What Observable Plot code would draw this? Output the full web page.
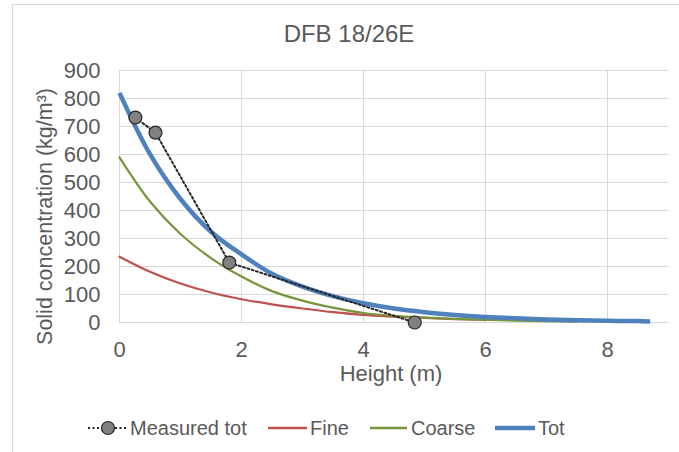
<!DOCTYPE html>
<html>
<head>
<meta charset="utf-8">
<script src="https://cdn.jsdelivr.net/npm/d3@7"></script>
<script src="https://cdn.jsdelivr.net/npm/@observablehq/plot@0.6"></script>
<style>
  html, body { margin: 0; padding: 0; background: #fff; }
  #wrap { position: relative; width: 679px; height: 452px; overflow: hidden; font-family: "Liberation Sans", Arial, sans-serif; color: #595959; }
  #border { position: absolute; left: 12px; top: 4px; right: -2px; bottom: -2px; border-left: 1px solid #d9d9d9; border-top: 1px solid #d9d9d9; }
  #title { position: absolute; left: 12px; width: 674px; top: 20px; text-align: center; font-size: 24px; line-height: 28px; color: #595959; }
  #plot { position: absolute; left: 0; top: 0; }
  #legend { position: absolute; left: 0; top: 402px; }
</style>
</head>
<body>
<div id="wrap">
  <div id="border"></div>
  <div id="plot"></div>
  <div id="title"></div>
  <div id="legend"></div>
</div>
<script>
const titleText = "DFB 18/26E";
const xLabel = "Height (m)";
const yLabel = "Solid concentration (kg/m³)";
const seriesNames = ["Measured tot", "Fine", "Coarse", "Tot"];
const seriesColors = ["#262626", "#C0504D", "#77963C", "#4F81BD"];

const xTicks = [0, 2, 4, 6, 8];
const yTicks = [0, 100, 200, 300, 400, 500, 600, 700, 800, 900];

const measuredHeight = [0.26, 0.59, 1.8, 4.84];
const measuredConc = [732, 678, 214, 0];

const fineHeight = [0, 0.5, 1, 1.5, 2, 2.5, 3, 3.5, 4, 4.5, 5, 5.5, 6];
const fineConc = [235, 181, 139, 107, 83, 65, 50, 37, 27, 21, 16, 12, 9];

const coarseHeight = [0, 0.5, 1, 1.5, 2, 2.5, 3, 3.5, 4, 4.5, 5, 5.5, 6, 6.5, 7, 7.5];
const coarseConc = [590, 432, 316, 230, 164, 112, 78, 53, 34, 24, 18, 13, 10, 7, 5, 3];

const totHeight = [0, 0.5, 1, 1.5, 2, 2.5, 3, 3.5, 4, 4.5, 5, 5.5, 6, 6.5, 7, 7.5, 8, 8.5, 8.7];
const totConc = [820, 601, 441, 324, 243, 174, 128, 94, 69, 50, 37, 27, 20, 15, 11, 8, 6, 5, 4];

const toRows = (xs, ys) => xs.map((x, i) => ({x, y: ys[i]}));
const measured = toRows(measuredHeight, measuredConc);
const fine = toRows(fineHeight, fineConc);
const coarse = toRows(coarseHeight, coarseConc);
const tot = toRows(totHeight, totConc);

document.getElementById("title").textContent = titleText;

const chart = Plot.plot({
  width: 679,
  height: 400,
  marginLeft: 119,
  marginRight: 11,
  marginTop: 70,
  marginBottom: 78,
  style: {fontFamily: "'Liberation Sans', Arial, sans-serif", fontSize: "22px", color: "#595959", background: "transparent", overflow: "visible"},
  x: {domain: [0, 9], label: null},
  y: {domain: [0, 900], label: null},
  marks: [
    Plot.gridY(yTicks.slice(1), {stroke: "#d9d9d9", strokeOpacity: 1, strokeWidth: 1}),
    Plot.gridX(xTicks, {stroke: "#d9d9d9", strokeOpacity: 1, strokeWidth: 1}),
    Plot.ruleY([0], {stroke: "#d9d9d9", strokeWidth: 1.2}),
    Plot.axisY(yTicks, {tickSize: 0, tickPadding: 19, label: null, fontSize: 22}),
    Plot.axisX(xTicks, {tickSize: 0, tickPadding: 19, label: null, fontSize: 22}),
    Plot.line(fine, {x: "x", y: "y", stroke: seriesColors[1], strokeWidth: 2.2, curve: "catmull-rom"}),
    Plot.line(coarse, {x: "x", y: "y", stroke: seriesColors[2], strokeWidth: 2.2, curve: "catmull-rom"}),
    Plot.line(tot, {x: "x", y: "y", stroke: seriesColors[3], strokeWidth: 4.5, curve: "catmull-rom", strokeLinecap: "butt"}),
    Plot.line(measured, {x: "x", y: "y", stroke: seriesColors[0], strokeWidth: 2, strokeDasharray: "2 2.5", curve: "linear"}),
    Plot.dot(measured, {x: "x", y: "y", r: 6.5, fill: "#808080", stroke: "#262626", strokeWidth: 1.2}),
    Plot.text([xLabel], {frameAnchor: "bottom", dy: 58, dx: -3, fontSize: 22, fill: "#595959"}),
    Plot.text([yLabel], {frameAnchor: "left", textAnchor: "middle", rotate: -90, dx: -74, dy: 20, fontSize: 21.5, fill: "#595959"})
  ]
});
document.getElementById("plot").appendChild(chart);

// Legend
const lg = d3.select("#legend").append("svg").attr("width", 679).attr("height", 50)
  .style("font-family", "'Liberation Sans', Arial, sans-serif");
const cy = 26;
const items = [
  {name: seriesNames[0], x0: 88, x1: 128, tx: 130, color: seriesColors[0], w: 2, dash: "2 2.5", marker: true},
  {name: seriesNames[1], x0: 268, x1: 307, tx: 310, color: seriesColors[1], w: 2.5},
  {name: seriesNames[2], x0: 370, x1: 407, tx: 411, color: seriesColors[2], w: 2.5},
  {name: seriesNames[3], x0: 495, x1: 535, tx: 538, color: seriesColors[3], w: 4.5}
];
for (const it of items) {
  lg.append("line").attr("x1", it.x0).attr("x2", it.x1).attr("y1", cy).attr("y2", cy)
    .attr("stroke", it.color).attr("stroke-width", it.w).attr("stroke-dasharray", it.dash || null);
  if (it.marker) {
    lg.append("circle").attr("cx", (it.x0 + it.x1) / 2).attr("cy", cy).attr("r", 6.5)
      .attr("fill", "#808080").attr("stroke", "#262626").attr("stroke-width", 1.2);
  }
  lg.append("text").attr("x", it.tx).attr("y", cy).attr("dy", "0.36em")
    .attr("font-size", 20).attr("fill", "#595959").text(it.name);
}
</script>
</body>
</html>
